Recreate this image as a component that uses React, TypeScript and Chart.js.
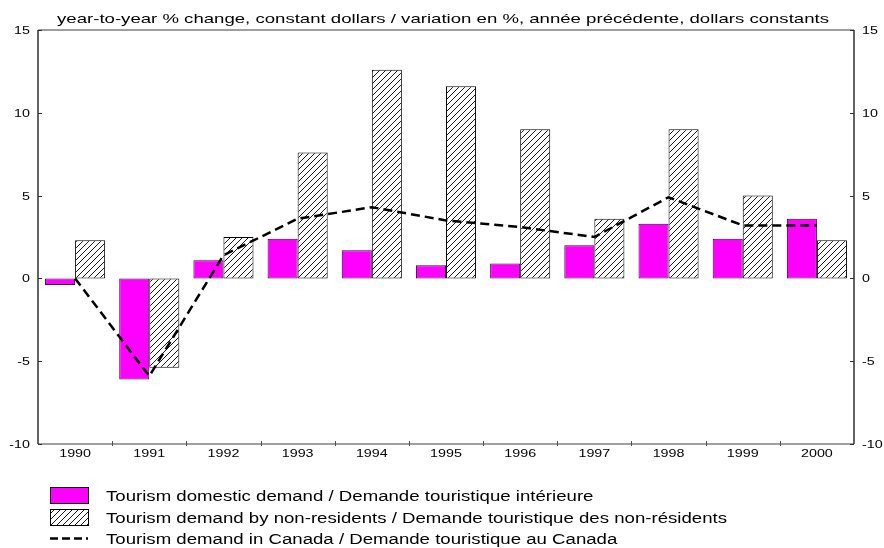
import React, { useEffect, useRef } from "react";
import { Chart, registerables } from "chart.js";

Chart.register(...registerables);

const years = ["1990", "1991", "1992", "1993", "1994", "1995", "1996", "1997", "1998", "1999", "2000"];
const domesticDemand = [-0.4, -6.1, 1.1, 2.4, 1.7, 0.8, 0.9, 2.0, 3.3, 2.4, 3.6];
const nonResidentDemand = [2.3, -5.4, 2.5, 7.6, 12.6, 11.6, 9.0, 3.6, 9.0, 5.0, 2.3];
const canadaDemand = [0.0, -5.9, 1.4, 3.6, 4.3, 3.5, 3.1, 2.5, 4.9, 3.2, 3.2];
const yMin = -10;
const yMax = 15;
const yStep = 5;

const titleText =
  "year-to-year % change, constant dollars / variation en %, année précédente, dollars constants";
const seriesLabels = [
  "Tourism domestic demand / Demande touristique intérieure",
  "Tourism demand by non-residents / Demande touristique des non-résidents",
  "Tourism demand in Canada / Demande touristique au Canada",
];

const FONT = '"Liberation Sans", Arial, sans-serif';
const SX = 1.3;

function sText(ctx: CanvasRenderingContext2D, text: string, x: number, y: number, align: CanvasTextAlign, sx: number) {
  ctx.save();
  ctx.translate(x, y);
  ctx.scale(sx, 1);
  ctx.textAlign = align;
  ctx.fillText(text, 0, 0);
  ctx.restore();
}

function makeHatch(): CanvasPattern | string {
  const c = document.createElement("canvas");
  const s = 6;
  c.width = s;
  c.height = s;
  const g = c.getContext("2d");
  if (!g) return "#fff";
  g.fillStyle = "#ffffff";
  g.fillRect(0, 0, s, s);
  g.strokeStyle = "#000000";
  g.lineWidth = 0.9;
  g.beginPath();
  g.moveTo(0, s);
  g.lineTo(s, 0);
  g.moveTo(-1, 1);
  g.lineTo(1, -1);
  g.moveTo(s - 1, s + 1);
  g.lineTo(s + 1, s - 1);
  g.stroke();
  return g.createPattern(c, "repeat") || "#fff";
}

const framePlugin = {
  id: "frameAndText",
  afterDraw(chart: any) {
    const ctx: CanvasRenderingContext2D = chart.ctx;
    const { left, right, top, bottom } = chart.chartArea;
    const x = chart.scales.x;
    const y = chart.scales.y;
    ctx.save();
    // frame
    ctx.lineWidth = 1.5;
    ctx.strokeStyle = "#808080";
    ctx.beginPath();
    ctx.moveTo(left, top);
    ctx.lineTo(right, top);
    ctx.moveTo(left, bottom);
    ctx.lineTo(right, bottom);
    ctx.stroke();
    ctx.strokeStyle = "#303030";
    ctx.beginPath();
    ctx.moveTo(left, top);
    ctx.lineTo(left, bottom);
    ctx.moveTo(right, top);
    ctx.lineTo(right, bottom);
    ctx.stroke();

    // y ticks and labels
    ctx.fillStyle = "#000";
    ctx.font = `11px ${FONT}`;
    ctx.textBaseline = "middle";
    ctx.lineWidth = 1;
    ctx.strokeStyle = "#303030";
    y.ticks.forEach((t: any) => {
      const py = Math.round(y.getPixelForValue(t.value)) + 0.5;
      ctx.beginPath();
      ctx.moveTo(left, py);
      ctx.lineTo(left + 4, py);
      ctx.moveTo(right, py);
      ctx.lineTo(right - 4, py);
      ctx.stroke();
      const lbl = String(t.label);
      sText(ctx, lbl, left - 8, py, "right", SX);
      sText(ctx, lbl, right + 8, py, "left", SX);
    });

    // x ticks at category boundaries and labels
    ctx.strokeStyle = "#505050";
    const labels: string[] = chart.data.labels;
    for (let i = 0; i < labels.length - 1; i++) {
      const bx = Math.round((x.getPixelForTick(i) + x.getPixelForTick(i + 1)) / 2) + 0.5;
      ctx.beginPath();
      ctx.moveTo(bx, bottom - 3);
      ctx.lineTo(bx, bottom + 2);
      ctx.stroke();
    }
    ctx.textBaseline = "middle";
    labels.forEach((l, i) => {
      sText(ctx, l, x.getPixelForTick(i), bottom + 10, "center", SX);
    });

    // title
    ctx.font = `13px ${FONT}`;
    ctx.textBaseline = "alphabetic";
    sText(ctx, titleText, (left + right) / 2 - 3, 22.5, "center", 1.43);

    // legend
    const ds = chart.data.datasets;
    const lx = 50;
    const lw = 38;
    const tx = 106;
    const lsx = 1.33;
    ctx.font = `14px ${FONT}`;
    ctx.textBaseline = "alphabetic";
    // row 1
    ctx.fillStyle = ds[0].backgroundColor;
    ctx.fillRect(lx, 487, lw, 16);
    ctx.strokeStyle = "#000";
    ctx.lineWidth = 1;
    ctx.strokeRect(lx + 0.5, 487.5, lw, 16);
    ctx.fillStyle = "#000";
    sText(ctx, ds[0].label, tx, 500.5, "left", lsx);
    // row 2
    ctx.fillStyle = ds[1].backgroundColor;
    ctx.fillRect(lx, 509, lw, 16);
    ctx.strokeRect(lx + 0.5, 509.5, lw, 16);
    ctx.fillStyle = "#000";
    sText(ctx, ds[1].label, tx, 522.5, "left", lsx);
    // row 3
    ctx.strokeStyle = "#000";
    ctx.lineWidth = 2.5;
    ctx.setLineDash([8, 4]);
    ctx.beginPath();
    ctx.moveTo(lx, 538.5);
    ctx.lineTo(lx + lw, 538.5);
    ctx.stroke();
    ctx.setLineDash([]);
    sText(ctx, ds[2].label, tx, 544, "left", lsx);
    ctx.restore();
  },
};

export default function App() {
  const ref = useRef<HTMLCanvasElement | null>(null);
  useEffect(() => {
    if (!ref.current) return;
    const hatch = makeHatch();
    const chart = new Chart(ref.current, {
      type: "bar",
      data: {
        labels: years,
        datasets: [
          {
            type: "bar",
            label: seriesLabels[0],
            data: domesticDemand,
            backgroundColor: "#ff00ff",
            borderColor: "#3a003a",
            borderWidth: 1,
            borderSkipped: false,
            categoryPercentage: 0.81,
            barPercentage: 1.0,
            order: 2,
            yAxisID: "y",
          },
          {
            type: "bar",
            label: seriesLabels[1],
            data: nonResidentDemand,
            backgroundColor: hatch as any,
            borderColor: "#000",
            borderWidth: 1,
            borderSkipped: false,
            categoryPercentage: 0.81,
            barPercentage: 1.0,
            order: 2,
            yAxisID: "y",
          },
          {
            type: "line",
            label: seriesLabels[2],
            data: canadaDemand,
            borderColor: "#000",
            borderWidth: 2.5,
            borderDash: [9, 5],
            pointRadius: 0,
            tension: 0,
            fill: false,
            order: 0,
            yAxisID: "y",
          } as any,
        ],
      },
      options: {
        responsive: false,
        animation: false,
        devicePixelRatio: 1,
        layout: { padding: { top: 30, bottom: 84, left: 0, right: 0 } },
        plugins: {
          legend: { display: false },
          title: { display: false },
          tooltip: { enabled: false },
        },
        scales: {
          x: {
            offset: true,
            grid: { display: false, drawTicks: false },
            border: { display: false },
            ticks: { display: false },
            afterFit: (s: any) => {
              s.height = 20;
            },
          },
          y: {
            position: "left",
            min: yMin,
            max: yMax,
            ticks: { display: false, stepSize: yStep },
            grid: { display: false, drawTicks: false },
            border: { display: false },
            afterFit: (s: any) => {
              s.width = 38;
            },
          },
          y2: {
            position: "right",
            min: yMin,
            max: yMax,
            ticks: { display: false, stepSize: yStep },
            grid: { display: false, drawTicks: false },
            border: { display: false },
            afterFit: (s: any) => {
              s.width = 30;
            },
          },
        },
      },
      plugins: [framePlugin],
    });
    return () => chart.destroy();
  }, []);
  return (
    <div style={{ position: "fixed", left: 0, top: 0, width: 884, height: 548, background: "#fff" }}>
      <canvas ref={ref} width={884} height={548} style={{ display: "block" }} />
    </div>
  );
}
